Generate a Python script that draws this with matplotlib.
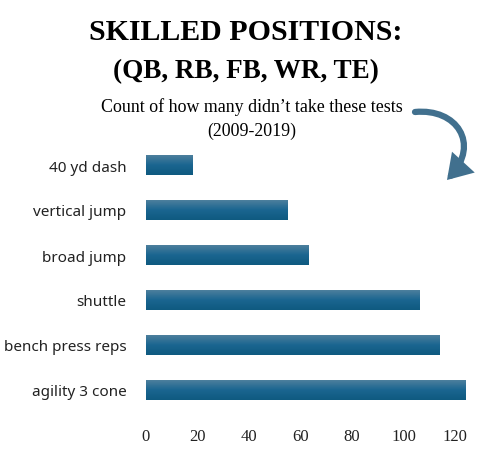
import numpy as np
import matplotlib
matplotlib.use("Agg")
import matplotlib.pyplot as plt
from matplotlib.patches import FancyArrowPatch
from matplotlib.path import Path

tests = ["40 yd dash", "vertical jump", "broad jump", "shuttle",
         "bench press reps", "agility 3 cone"]
missed = [18, 55, 63, 106, 114, 124]
xticks = [0, 20, 40, 60, 80, 100, 120]

W, H = 482, 456
fig = plt.figure(figsize=(W / 100, H / 100), dpi=100)
ax = fig.add_axes([146 / W, 1 - 413.5 / H, 322 / W, 270 / H])

y = np.arange(len(tests))
bars = ax.barh(y, missed, height=0.43, color="#15608a")

# vertical gradient on each bar, lighter at top
grad = np.linspace(0, 1, 64).reshape(-1, 1)
cmap = matplotlib.colors.LinearSegmentedColormap.from_list(
    "bar", ["#4c7f9d", "#1a6590", "#0f5a80"])
for b in bars:
    x0, y0 = b.get_x(), b.get_y()
    im = ax.imshow(grad, cmap=cmap, aspect="auto",
                   extent=[x0, x0 + b.get_width(), y0 + b.get_height(), y0],
                   zorder=3)
    im.set_clip_path(b)

ax.set_xlim(0, 125)
ax.set_ylim(len(tests) - 0.5, -0.5)
ax.set_yticks(y)
ax.set_yticklabels(tests, fontsize=11, family="Noto Sans", color="#222222")
ax.set_xticks(xticks)
ax.set_xticklabels([str(t) for t in xticks], fontsize=12,
                   family="Liberation Serif", color="#222222")
ax.tick_params(axis="both", length=0)
ax.tick_params(axis="y", pad=14)
ax.tick_params(axis="x", pad=11)
for s in ax.spines.values():
    s.set_visible(False)

fig.text(246 / W, 1 - 33 / H, "SKILLED POSITIONS:", ha="center", va="center",
         fontsize=21.5, fontweight="bold", family="Liberation Serif")
fig.text(246 / W, 1 - 72 / H, "(QB, RB, FB, WR, TE)", ha="center", va="center",
         fontsize=19.5, fontweight="bold", family="Liberation Serif")
fig.text(252 / W, 1 - 107 / H, "Count of how many didn\u2019t take these tests",
         ha="center", va="center", fontsize=12.9, family="Liberation Serif")
fig.text(252 / W, 1 - 131 / H, "(2009-2019)", ha="center", va="center",
         fontsize=12.9, family="Liberation Serif")

# curved arrow pointing down to the bars
pts = [(415, 113), (457, 109), (480, 145), (447, 181)]
pts = [(px / W, 1 - py / H) for px, py in pts]
curve = Path(pts, [Path.MOVETO, Path.CURVE4, Path.CURVE4, Path.CURVE4])
arrow = FancyArrowPatch(path=curve, transform=fig.transFigure,
                        arrowstyle="-|>,head_length=11,head_width=7",
                        color="#41708e", lw=4.5, mutation_scale=1,
                        joinstyle="miter")
fig.patches.append(arrow)

fig.savefig("out.png", dpi=100)
